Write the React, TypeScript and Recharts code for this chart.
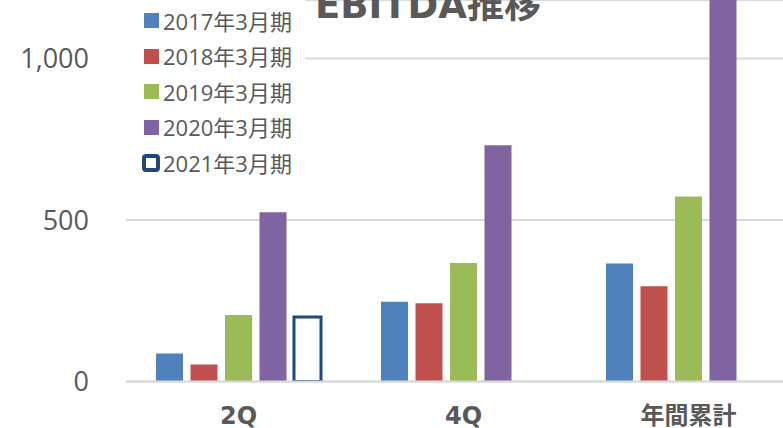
import { Bar, BarChart, CartesianGrid, XAxis, YAxis } from "recharts"

// EBITDA by period
const categories = ["2Q", "4Q", "年間累計"]
const fy2017 = [87, 247, 365]
const fy2018 = [53, 242, 295]
const fy2019 = [206, 367, 573]
const fy2020 = [524, 731, 1280]
const fy2021 = [200, null, null]
const seriesNames = ["2017年3月期", "2018年3月期", "2019年3月期", "2020年3月期", "2021年3月期"]
const yTicks = [0, 500, 1000]

const data = categories.map((c, i) => ({
  name: c,
  fy2017: fy2017[i],
  fy2018: fy2018[i],
  fy2019: fy2019[i],
  fy2020: fy2020[i],
  fy2021: fy2021[i],
}))

const colors = ["#4F81BD", "#C0504D", "#9BBB59", "#8064A2", "#1F497D"]
const textColor = "#595959"
const gridColor = "#d9d9d9"
const numFont = "'Open Sans', 'Noto Sans CJK JP', sans-serif"
const boldFont = "'DejaVu Sans', 'Noto Sans CJK JP', sans-serif"

// legend sits over the top-left of the plot, white box hides the 1,000 gridline
function LegendBox() {
  return (
    <div
      style={{
        position: "absolute",
        left: 120,
        top: 0,
        background: "#fff",
        width: 185,
        height: 182,
        paddingTop: 3,
        boxSizing: "border-box",
        fontFamily: numFont,
        fontSize: 22,
        color: textColor,
      }}
    >
      {seriesNames.map((n, i) => (
        <div key={n} style={{ display: "flex", alignItems: "center", height: 35.5 }}>
          <div style={{ width: 22, marginLeft: 20, display: "flex", justifyContent: "center" }}>
            {i === 4 ? (
              <div
                style={{
                  width: 10,
                  height: 10,
                  border: `4.5px solid ${colors[i]}`,
                  borderRadius: 4,
                  background: "#fff",
                }}
              />
            ) : (
              <div style={{ width: 15, height: 15, background: colors[i] }} />
            )}
          </div>
          <span style={{ marginLeft: 1, lineHeight: 1 }}>{n}</span>
        </div>
      ))}
    </div>
  )
}

export default function App() {
  return (
    <div
      style={{
        position: "absolute",
        left: 0,
        top: 0,
        width: 783,
        height: 428,
        overflow: "hidden",
        background: "#fff",
      }}
    >
      <BarChart
        width={801}
        height={428}
        data={data}
        margin={{ top: 0, right: 0, bottom: 0, left: 0 }}
        barSize={27}
        barGap={7.5}
      >
        <CartesianGrid vertical={false} stroke={gridColor} strokeWidth={2} />
        <XAxis
          dataKey="name"
          height={46.5}
          tickLine={false}
          axisLine={{ stroke: gridColor, strokeWidth: 2 }}
          tickMargin={19}
          tick={{ fill: textColor, fontSize: 24, fontWeight: "bold", fontFamily: boldFont }}
        />
        <YAxis
          width={126}
          domain={[0, 1181]}
          ticks={yTicks}
          allowDataOverflow
          axisLine={false}
          tickLine={false}
          tickSize={0}
          tickMargin={37}
          tickFormatter={(v) => v.toLocaleString("en-US")}
          tick={{ fill: textColor, fontSize: 27, fontFamily: numFont }}
        />
        <Bar dataKey="fy2017" name={seriesNames[0]} fill={colors[0]} isAnimationActive={false} />
        <Bar dataKey="fy2018" name={seriesNames[1]} fill={colors[1]} isAnimationActive={false} />
        <Bar dataKey="fy2019" name={seriesNames[2]} fill={colors[2]} isAnimationActive={false} />
        <Bar dataKey="fy2020" name={seriesNames[3]} fill={colors[3]} isAnimationActive={false} />
        <Bar
          dataKey="fy2021"
          name={seriesNames[4]}
          fill="#fff"
          stroke={colors[4]}
          strokeWidth={3}
          isAnimationActive={false}
        />
      </BarChart>
      <LegendBox />
      <svg
        width={783}
        height={60}
        style={{ position: "absolute", left: 0, top: 0, pointerEvents: "none" }}
      >
        <text
          x={428}
          y={18}
          textAnchor="middle"
          fontFamily={boldFont}
          fontWeight="bold"
          fontSize={37}
          fill={textColor}
        >
          EBITDA推移
        </text>
      </svg>
    </div>
  )
}
